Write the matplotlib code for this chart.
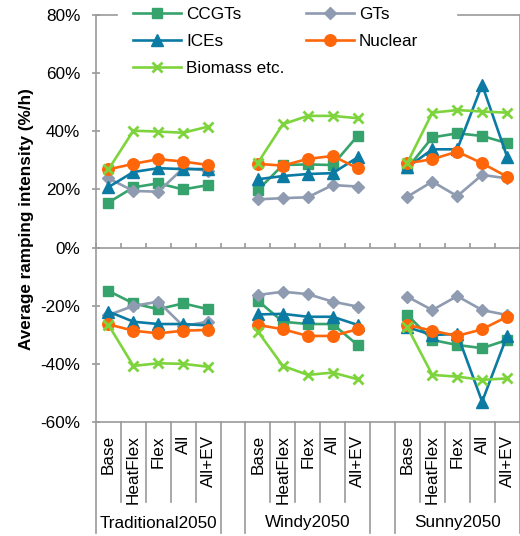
import matplotlib
matplotlib.use("Agg")
import matplotlib.pyplot as plt
from matplotlib.ticker import FuncFormatter

plt.rcParams['font.family'] = ['Liberation Sans', 'DejaVu Sans']
plt.rcParams['font.size'] = 12.3

categories = ["Base", "HeatFlex", "Flex", "All", "All+EV"]
scenarios = ["Traditional2050", "Windy2050", "Sunny2050"]
yticks = [-60, -40, -20, 0, 20, 40, 60, 80]

# upward ramping (per scenario, per category)
ccgt_up = [[15.5, 20.7, 22.1, 20.0, 21.5], [19.8, 28.4, 28.6, 28.4, 38.4], [27.3, 37.9, 39.3, 38.4, 35.9]]
gt_up = [[23.8, 19.5, 19.2, 27.3, 26.5], [16.6, 17.0, 17.3, 21.5, 21.0], [17.5, 22.7, 17.7, 25.0, 23.8]]
ice_up = [[20.8, 26.0, 27.3, 27.0, 27.0], [23.5, 24.6, 25.3, 25.6, 31.0], [27.6, 33.8, 33.8, 56.0, 31.3]]
nuc_up = [[26.9, 28.8, 30.4, 29.6, 28.4], [28.8, 28.2, 30.5, 31.5, 27.3], [29.0, 30.4, 33.0, 29.0, 24.4]]
bio_up = [[26.9, 40.2, 39.9, 39.5, 41.6], [29.2, 42.4, 45.3, 45.3, 44.5], [29.2, 46.4, 47.3, 46.8, 46.4]]

# downward ramping
ccgt_dn = [[-14.9, -19.2, -21.2, -19.2, -21.2], [-18.3, -25.5, -26.3, -26.3, -33.5], [-23.2, -31.8, -33.5, -34.6, -31.8]]
gt_dn = [[-23.2, -20.1, -18.6, -27.0, -25.5], [-16.3, -15.2, -16.0, -18.6, -20.3], [-16.9, -21.5, -16.7, -21.5, -23.2]]
ice_dn = [[-22.0, -25.5, -26.3, -26.3, -26.8], [-23.0, -22.8, -23.8, -23.8, -26.6], [-27.4, -30.1, -29.7, -53.0, -30.4]]
nuc_dn = [[-26.4, -28.6, -29.5, -28.6, -28.3], [-26.6, -28.1, -30.4, -30.4, -28.1], [-26.6, -28.6, -30.4, -28.1, -23.8]]
bio_dn = [[-26.6, -40.7, -39.8, -40.0, -41.0], [-28.9, -40.7, -43.8, -43.0, -45.3], [-27.4, -43.8, -44.4, -45.5, -45.0]]

series = [
    ("CCGTs", ccgt_up, ccgt_dn, "#37A36C", "s", 7.0),
    ("GTs", gt_up, gt_dn, "#8E9BB0", "D", 6.3),
    ("ICEs", ice_up, ice_dn, "#0B7BA3", "^", 8.3),
    ("Nuclear", nuc_up, nuc_dn, "#FF660A", "o", 8.3),
    ("Biomass etc.", bio_up, bio_dn, "#7ED43C", "x", 7.5),
]

W, H = 520, 536
fig = plt.figure(figsize=(W / 100, H / 100), dpi=100)
ax = fig.add_axes([96 / W, (H - 422) / H, (519.5 - 96) / W, 407 / H])
nslots = len(scenarios) * (len(categories) + 1) - 1
ax.set_xlim(0, nslots)
ax.set_ylim(-60, 80)

handles = {}
for name, up, dn, col, mk, ms in series:
    for g in range(len(scenarios)):
        xs = [g * (len(categories) + 1) + c + 0.5 for c in range(len(categories))]
        for vals in (up[g], dn[g]):
            kw = dict(color=col, lw=1.9, marker=mk, ms=ms, zorder=3)
            if mk == "x":
                kw.update(mew=2.0)
            else:
                kw.update(mec=col, mfc=col)
            ln, = ax.plot(xs, vals, **kw)
            handles[name] = ln

axis_col = "#9A9A9A"
for s in ["left", "right", "bottom"]:
    ax.spines[s].set_color(axis_col)
    ax.spines[s].set_linewidth(1.2)
ax.spines["top"].set_visible(False)
ax.spines["bottom"].set_position(("data", 0))

ax.set_yticks(yticks)
ax.yaxis.set_major_formatter(FuncFormatter(lambda v, p: f"{int(v)}%"))
ax.tick_params(axis="y", direction="inout", length=6, width=1.2, color=axis_col, pad=8.3, labelsize=12.3)
ax.set_xticks(range(0, nslots + 1))
ax.tick_params(axis="x", direction="in", length=3.6, width=1.2, color=axis_col, labelbottom=False)

# top border (interrupted by legend) and bottom border
ax.plot([0, (117 - 96) / 423.5], [1, 1], transform=ax.transAxes, color=axis_col, lw=1.2, clip_on=False)
ax.plot([(458 - 96) / 423.5, 1], [1, 1], transform=ax.transAxes, color=axis_col, lw=1.2, clip_on=False)
ax.plot([0, 1], [0, 0], transform=ax.transAxes, color=axis_col, lw=1.2, clip_on=False)

# category separators below the plot
tr = ax.get_xaxis_transform()
short = -80 / 407
long_ = -111 / 407
group_edges = set()
for g in range(len(scenarios)):
    start = g * (len(categories) + 1)
    group_edges.add(start)
    group_edges.add(start + len(categories))
for b in range(0, nslots + 1):
    if b in group_edges:
        ax.plot([b, b], [0, long_], transform=tr, color=axis_col, lw=1.2, clip_on=False)
    else:
        ax.plot([b, b], [0, short], transform=tr, color=axis_col, lw=1.2, clip_on=False)

for g, sc in enumerate(scenarios):
    start = g * (len(categories) + 1)
    for c, cat in enumerate(categories):
        ax.text(start + c + 0.5, -13 / 407, cat, rotation=90, ha="center", va="top",
                transform=tr, fontsize=12.3)
    ax.text(start + len(categories) / 2, -101 / 407, sc, ha="center", va="center",
            transform=tr, fontsize=12.3)

fig.text(27 / W, 1 - 219 / H, "Average ramping intensity (%/h)", rotation=90,
         ha="center", va="center", fontsize=12.3, fontweight="bold")

order = ["CCGTs", "ICEs", "Biomass etc.", "GTs", "Nuclear"]
fig.legend([handles[n] for n in order], order, ncol=2, loc="upper left",
           bbox_to_anchor=(133 / W, 1 - 7 / H), frameon=False, borderpad=0,
           handlelength=2.8, handletextpad=0.3, columnspacing=1.25, labelspacing=0.7,
           fontsize=12.3, borderaxespad=0)

fig.savefig("out.png", dpi=100)
